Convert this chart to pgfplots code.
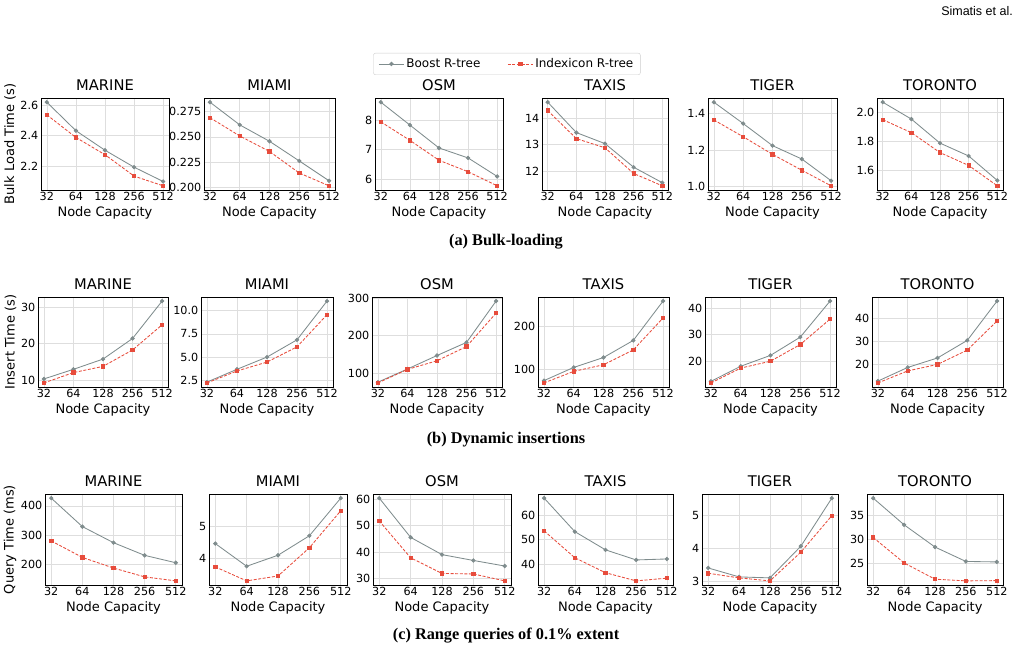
\documentclass[border=0pt]{standalone}
\usepackage{fontspec}
\setmainfont{DejaVu Sans}
\newfontfamily\capfont{Liberation Serif}
\newfontfamily\hdrfont{Liberation Sans}
\usepackage{pgfplots}
\pgfplotsset{compat=1.18}
\definecolor{boostc}{HTML}{7F8C8D}
\definecolor{idxc}{HTML}{E74C3C}
\definecolor{gridc}{HTML}{DEDEDE}
\definecolor{legc}{HTML}{CCCCCC}

\pgfplotsset{
 legend image code/.code={\draw[mark repeat=2,mark phase=2,#1] plot coordinates {(0pt,0pt)(12.5pt,0pt)(25pt,0pt)};},
 base/.style={
  scale only axis,
  xmin=-0.2, xmax=4.2,
  xtick={0,1,2,3,4}, xticklabels={32,64,128,256,512},
  enlarge y limits=0.05,
  scaled y ticks=false,
  grid=major,
  major grid style={draw=gridc, line width=0.6pt},
  axis line style={draw=black, line width=0.9pt},
  major tick length=0pt,
  tick label style={font=\fontsize{11.2}{13}\selectfont},
  xticklabel style={inner sep=1.5pt},
  yticklabel style={inner sep=2.5pt},
  /pgf/number format/assume math mode=true,
  title style={font=\fontsize{14.7}{16}\selectfont, inner sep=0pt, at={(axis description cs:0.5,1)}, anchor=south, yshift=1.3pt},
  xlabel={Node Capacity},
  xlabel style={font=\fontsize{13}{15}\selectfont, at={(axis description cs:0.5,0)}, anchor=north, yshift=-16pt, inner sep=0pt},
  ylabel style={font=\fontsize{13}{15}\selectfont, inner sep=2pt},
 },
 boost/.style={color=boostc, line width=0.85pt, mark=*, mark size=1.7pt, mark options={solid}},
 idx/.style={color=idxc, line width=0.85pt, dash pattern=on 3pt off 1.6pt, mark=square*, mark size=1.7pt, mark options={solid}},
 zf1/.style={yticklabel style={/pgf/number format/.cd, fixed, fixed zerofill, precision=1}},
 zf3/.style={yticklabel style={/pgf/number format/.cd, fixed, fixed zerofill, precision=3}},
}

% #1 left, #2 top, #3 width, #4 height, #5 title, #6 options, #7 boost, #8 indexicon
\newcommand{\panel}[8]{%
 \begin{axis}[base, at={(#1pt,-#2pt)}, anchor=north west, width=#3pt, height=#4pt, title={#5}, #6]
 \addplot[boost] coordinates {#7};
 \addplot[idx] coordinates {#8};
 \end{axis}}

\begin{document}
\begin{tikzpicture}[x=1pt,y=1pt]
\useasboundingbox (0,0) rectangle (1017,-653);

\node[anchor=east, inner sep=0pt, font=\hdrfont\fontsize{12.5}{14}\selectfont] at (1013,-11) {Simatis et al.};

% Row 1: bulk loading
\panel{41}{98}{128}{92}{MARINE}{zf1, ytick={2.2,2.4,2.6}, ylabel={Bulk Load Time (s)},
  legend entries={Boost R-tree, Indexicon R-tree},
  legend columns=2,
  legend style={at={(axis description cs:3.64,1.37)}, anchor=center, draw=legc, rounded corners=2pt,
    font=\fontsize{12}{14}\selectfont, /tikz/every even column/.append style={column sep=25pt},
    inner xsep=5pt, inner ysep=3.5pt}}
  {(0,2.618)(1,2.433)(2,2.306)(3,2.196)(4,2.103)}
  {(0,2.536)(1,2.389)(2,2.277)(3,2.138)(4,2.075)}
\panel{204}{98}{131}{92}{MIAMI}{zf3, ytick={0.2,0.225,0.25,0.275}}
  {(0,0.2844)(1,0.2619)(2,0.2456)(3,0.2261)(4,0.2064)}
  {(0,0.2690)(1,0.2509)(2,0.2355)(3,0.2141)(4,0.2014)}
\panel{375}{98}{128}{92}{OSM}{ytick={6,7,8}}
  {(0,8.62)(1,7.84)(2,7.06)(3,6.72)(4,6.09)}
  {(0,7.95)(1,7.32)(2,6.64)(3,6.25)(4,5.77)}
\panel{542}{98}{126}{92}{TAXIS}{ytick={12,13,14}}
  {(0,14.62)(1,13.46)(2,13.04)(3,12.14)(4,11.55)}
  {(0,14.30)(1,13.23)(2,12.88)(3,11.90)(4,11.43)}
\panel{708}{98}{129}{92}{TIGER}{zf1, ytick={1.0,1.2,1.4}}
  {(0,1.464)(1,1.346)(2,1.224)(3,1.150)(4,1.030)}
  {(0,1.366)(1,1.273)(2,1.176)(3,1.088)(4,1.002)}
\panel{877}{98}{126}{92}{TORONTO}{zf1, ytick={1.6,1.8,2.0}}
  {(0,2.067)(1,1.951)(2,1.786)(3,1.698)(4,1.530)}
  {(0,1.947)(1,1.858)(2,1.721)(3,1.633)(4,1.493)}

\node[font=\capfont\bfseries\fontsize{16.3}{19}\selectfont] at (506,-242) {(a) Bulk-loading};

% Row 2: insertions
\panel{38}{297}{130}{90}{MARINE}{ytick={10,20,30}, ylabel={Insert Time (s)}}
  {(0,10.36)(1,13.0)(2,15.8)(3,21.45)(4,31.7)}
  {(0,9.27)(1,12.1)(2,13.8)(3,18.3)(4,25.2)}
\panel{201}{297}{132}{90}{MIAMI}{zf1, ytick={2.5,5,7.5,10}}
  {(0,2.3)(1,3.68)(2,5.0)(3,6.86)(4,11.04)}
  {(0,2.21)(1,3.5)(2,4.46)(3,6.1)(4,9.57)}
\panel{372}{297}{130}{90}{OSM}{ytick={100,200,300}}
  {(0,76)(1,111)(2,147)(3,182)(4,292)}
  {(0,74)(1,110)(2,133)(3,171)(4,260)}
\panel{538}{297}{131}{90}{TAXIS}{ytick={100,200}}
  {(0,74)(1,104.6)(2,127.5)(3,167)(4,258)}
  {(0,68.7)(1,95.4)(2,110.7)(3,145)(4,219)}
\panel{705}{297}{131}{90}{TIGER}{ytick={20,30,40}}
  {(0,12.3)(1,18.0)(2,22.1)(3,29.0)(4,42.6)}
  {(0,11.7)(1,17.3)(2,19.9)(3,26.2)(4,35.8)}
\panel{872}{297}{131}{90}{TORONTO}{ytick={20,30,40}}
  {(0,12.7)(1,18.6)(2,22.7)(3,30.3)(4,47.3)}
  {(0,11.9)(1,17.1)(2,19.9)(3,26.1)(4,38.7)}

\node[font=\capfont\bfseries\fontsize{16.3}{19}\selectfont] at (506,-440) {(b) Dynamic insertions};

% Row 3: range queries
\panel{45}{494}{137}{91}{MARINE}{ytick={200,300,400}, ylabel={Query Time (ms)}}
  {(0,426)(1,329.5)(2,275)(3,232)(4,207)}
  {(0,281)(1,225)(2,189)(3,159)(4,145.5)}
\panel{209}{494}{138}{91}{MIAMI}{ytick={4,5}}
  {(0,4.46)(1,3.76)(2,4.10)(3,4.70)(4,5.86)}
  {(0,3.74)(1,3.31)(2,3.46)(3,4.33)(4,5.47)}
\panel{373}{494}{138}{91}{OSM}{ytick={30,40,50,60}}
  {(0,60.4)(1,45.6)(2,39.1)(3,36.9)(4,34.8)}
  {(0,51.8)(1,37.9)(2,32.0)(3,31.8)(4,29.2)}
\panel{538}{494}{135}{91}{TAXIS}{ytick={40,50,60}}
  {(0,66.9)(1,53.3)(2,45.9)(3,41.8)(4,42.2)}
  {(0,53.6)(1,42.7)(2,36.6)(3,33.3)(4,34.4)}
\panel{702}{494}{136}{91}{TIGER}{ytick={3,4,5}}
  {(0,3.41)(1,3.14)(2,3.11)(3,4.07)(4,5.52)}
  {(0,3.25)(1,3.11)(2,3.02)(3,3.89)(4,4.99)}
\panel{867}{494}{136}{91}{TORONTO}{ytick={25,30,35}}
  {(0,38.6)(1,33.04)(2,28.4)(3,25.4)(4,25.3)}
  {(0,30.4)(1,25.1)(2,21.7)(3,21.35)(4,21.4)}

\node[font=\capfont\bfseries\fontsize{16.3}{19}\selectfont] at (506,-636) {(c) Range queries of 0.1\% extent};
\end{tikzpicture}
\end{document}
